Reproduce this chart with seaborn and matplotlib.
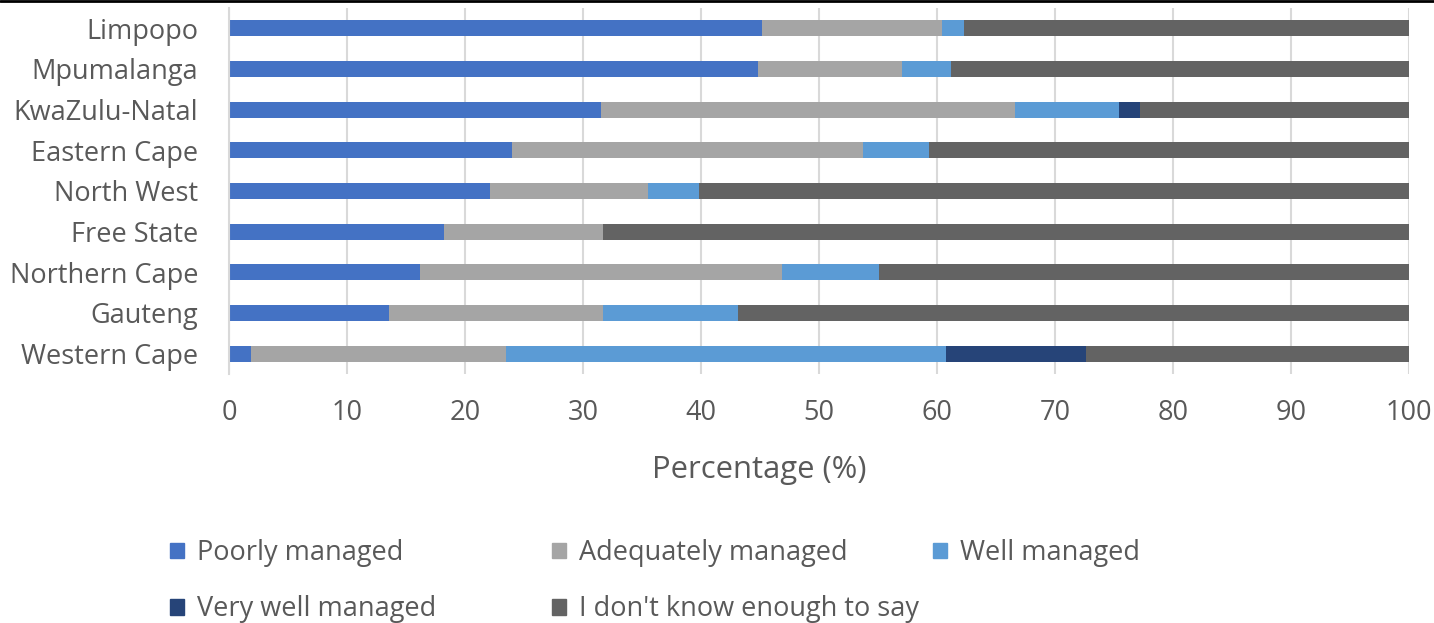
import numpy as np
import pandas as pd
import seaborn as sns
import matplotlib.pyplot as plt
from matplotlib.patches import Patch
from matplotlib.lines import Line2D

# Données (pourcentages)
provinces = ["Limpopo", "Mpumalanga", "KwaZulu-Natal", "Eastern Cape", "North West",
             "Free State", "Northern Cape", "Gauteng", "Western Cape"]
poorly = [45.2, 44.8, 31.5, 24.0, 22.1, 18.2, 16.2, 13.6, 1.9]
adequately = [15.2, 12.2, 35.1, 29.7, 13.4, 13.5, 30.7, 18.1, 21.6]
well = [1.9, 4.2, 8.8, 5.6, 4.3, 0.0, 8.2, 11.4, 37.3]
very_well = [0.0, 0.0, 1.8, 0.0, 0.0, 0.0, 0.0, 0.0, 11.8]
dont_know = [37.7, 38.8, 22.8, 40.7, 60.2, 68.3, 44.9, 56.9, 27.4]

series = ["Poorly managed", "Adequately managed", "Well managed",
          "Very well managed", "I don't know enough to say"]
colors = ["#4472C4", "#A5A5A5", "#5B9BD5", "#264478", "#636363"]

df = pd.DataFrame({"province": provinces, series[0]: poorly, series[1]: adequately,
                   series[2]: well, series[3]: very_well, series[4]: dont_know})
cum = df[series].cumsum(axis=1)

sns.set_theme(style="white")
plt.rcParams["font.family"] = ["Open Sans", "DejaVu Sans"]
txt = "#595959"

fig = plt.figure(figsize=(14.34, 6.23), dpi=100)
ax = fig.add_axes([229 / 1434, 1 - 374 / 623, 1180 / 1434, 366 / 623])

# barres empilées : on trace les cumuls du plus grand au plus petit
for s, c in reversed(list(zip(series, colors))):
    sns.barplot(x=cum[s], y=df["province"], orient="h", color=c, width=0.40,
                ax=ax, saturation=1, linewidth=0)

ax.set_xlim(0, 100)
ax.set_xticks(np.arange(0, 101, 10))
ax.grid(axis="x", color="#D9D9D9", linewidth=1.5)
ax.set_axisbelow(True)
for sp in ["top", "right", "bottom"]:
    ax.spines[sp].set_visible(False)
ax.spines["left"].set_color("#D9D9D9")
ax.spines["left"].set_linewidth(1.5)
ax.tick_params(axis="both", length=0, labelsize=19.5, colors=txt)
ax.tick_params(axis="x", pad=18)
ax.tick_params(axis="y", pad=22)
ax.set_ylabel("")
ax.set_xlabel("Percentage (%)", fontsize=22.3, color=txt)
ax.xaxis.set_label_coords((759 - 229) / 1180, -(470 - 374) / 366)
ax.xaxis.label.set_va("center")

# légende : une colonne par légende, positions fixes comme sur l'original
handles = {s: Patch(color=c, label=s) for s, c in zip(series, colors)}
columns = [(170, [series[0], series[3]]), (552, [series[1], series[4]]), (933, [series[2]])]
for x0, labels in columns:
    fig.legend([handles[l] for l in labels], labels, loc="upper left",
               bbox_to_anchor=(x0 / 1434, 1 - 539 / 623), frameon=False,
               borderpad=0, borderaxespad=0, fontsize=19.5, labelcolor=txt,
               handlelength=0.5, handleheight=0.5, handletextpad=0.5,
               labelspacing=1.05)

fig.add_artist(Line2D([0, 1], [1 - 1 / 623, 1 - 1 / 623], color="black", linewidth=2))

fig.savefig("out.png", dpi=100)
